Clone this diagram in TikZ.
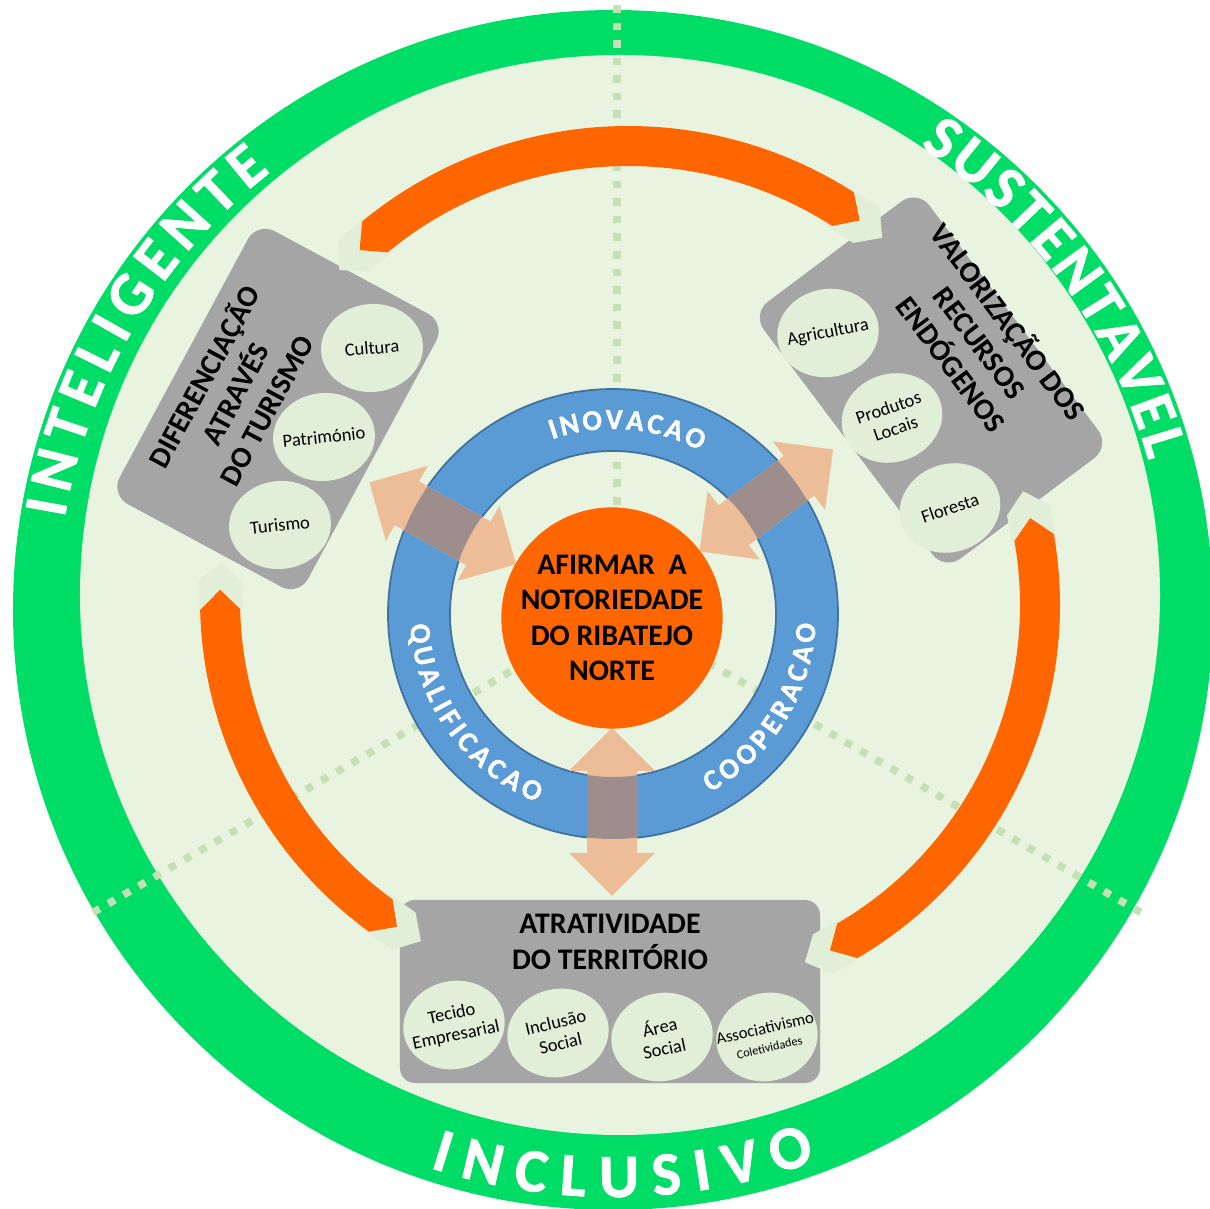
\documentclass[tikz,border=0pt]{standalone}
\usepackage{fontspec}
\setmainfont{Carlito}
\newfontfamily\ringface[UprightFont={* Bold}, FakeBold=1.2]{Carlito}
\usetikzlibrary{shapes.geometric,decorations.text}

\definecolor{greenring}{RGB}{0,221,102}
\definecolor{greendisk}{RGB}{232,243,224}
\definecolor{bubblefill}{RGB}{225,238,216}
\definecolor{dotfill}{RGB}{197,224,180}
\definecolor{blueband}{RGB}{91,155,213}
\definecolor{blueedge}{RGB}{65,113,156}
\definecolor{peachfill}{RGB}{236,189,150}
\definecolor{mauvefill}{RGB}{158,141,141}
\definecolor{hubfill}{RGB}{255,102,0}
\definecolor{greybox}{RGB}{165,165,165}

\newcommand{\ringbig}{\ringface\fontsize{35}{35}\selectfont}
\newcommand{\ringsmall}{\ringface\fontsize{16.5}{16.5}\selectfont}

% double arrow from the hub, #1 = direction, #2 = colour
\newcommand{\peacharrow}[2]{%
  \fill[#2, shift={(-3,-8)}, rotate=#1] (110,0) --++(43,43) --++(0,-18) --++(82,0) --++(0,18)
    --++(43,-43) --++(-43,-43) --++(0,18) --++(-82,0) --++(0,-18) -- cycle;}

% curved orange band, #1 = centre, #2 = radius, #3/#4 = end angles
\newcommand{\loopbend}[4]{%
  \begin{scope}[shift={#1}]
    \fill[bubblefill] ({#3+2}:{#2+22}) -- ({#3-4.1}:{#2+22}) -- ({#3-7}:#2) -- ({#3-4.1}:{#2-22}) -- ({#3+2}:{#2-22}) -- cycle;
    \fill[bubblefill] ({#4-2}:{#2+22}) -- ({#4+4.1}:{#2+22}) -- ({#4+7}:#2) -- ({#4+4.1}:{#2-22}) -- ({#4-2}:{#2-22}) -- cycle;
    \fill[hubfill] ({#3}:{#2+20}) arc[start angle=#3, end angle=#4, radius={#2+20}] -- ({#4+2.9}:#2)
      -- ({#4}:{#2-20}) arc[start angle=#4, end angle=#3, radius={#2-20}] -- ({#3-2.9}:#2) -- cycle;
  \end{scope}}

\tikzset{
  bubble/.style={ellipse, fill=bubblefill, minimum width=2.04cm, minimum height=1.76cm, inner sep=0pt,
    inner xsep=-0.3cm, align=center, text=black, font=\fontsize{10.5}{12.5}\selectfont},
  boxtitle/.style={align=center, text=black, font=\bfseries\fontsize{17}{20.2}\selectfont},
  hubdisk/.style={boxtitle, circle, fill=hubfill, minimum size=4.32cm, inner sep=0pt},
  dotline/.style={draw=dotfill, line width=4.3pt, dash pattern=on 4.3pt off 5.7pt},
  ringtext/.style={decorate, decoration={text along path, text align=fit to path, text color=white, text={#1}}},
}

\begin{document}
\begin{tikzpicture}[x=0.02cm, y=0.02cm]
  \useasboundingbox (-615,-599) rectangle (595,610);
  \clip (-615,-599) rectangle (595,610);
  \fill[white] (-615,-599) rectangle (595,610);

  % outer ring and disk
  \fill[greenring] (-2,0) circle (600);
  \fill[greendisk] (5,15) circle (540);
  \foreach \a in {90,210,330}
    \draw[dotline] (2,0) -- ++(\a:605);

  % blue ring with the three double arrows
  \path[fill=blueband, draw=blueedge, line width=1pt, even odd rule] (-2,-4) circle (225) (-2,-4) circle (163);
  \foreach \a in {150.8,37.3,270}
    \peacharrow{\a}{peachfill};
  \begin{scope}
    \clip (-2,-4) ++(0:225) arc[start angle=0, end angle=360, radius=225] -- ++(-62,0)
      arc[start angle=360, end angle=0, radius=163] -- cycle;
    \foreach \a in {150.8,37.3,270}
      \peacharrow{\a}{mauvefill};
  \end{scope}
  \node[hubdisk] (hub) at (-3,-8) {AFIRMAR\ \ A\\NOTORIEDADE\\DO RIBATEJO\\NORTE};

  % grey boxes
  \fill[greybox, rounded corners=0.4cm, rotate around={61.7:(-337,201)}] (-492,94) rectangle (-182,308);
  \fill[greybox, rounded corners=0.4cm, rotate around={-53.1:(316,230)}] (155.5,126.5) rectangle (476.5,333.5);
  \fill[greybox, rounded corners=0.3cm] (-215,-473) rectangle (205,-290);

  % orange bands
  \loopbend{(13,66)}{398}{57.3}{129.5}
  \loopbend{(-5,10)}{390}{181.4}{234}
  \loopbend{(36,5)}{389}{-59.7}{10}

  % bubbles
  \node[bubble, rotate=5] (cultura) at (-243,262) {Cultura};
  \node[bubble, rotate=6] (patrimonio) at (-291,173) {Património};
  \node[bubble, rotate=6] (turismo) at (-335,85) {Turismo};
  \node[bubble, rotate=11] (agricultura) at (213,277) {Agricultura};
  \node[bubble, rotate=19] (produtos) at (277,192) {Produtos\\Locais};
  \node[bubble, rotate=19] (floresta) at (335,102) {Floresta};
  \node[bubble, rotate=12] (tecido) at (-161,-415) {Tecido\\Empresarial};
  \node[bubble, rotate=13] (inclusao) at (-57,-423) {Inclusão\\Social};
  \node[bubble, rotate=12] (area) at (47,-427) {Área\\Social};
  \node[bubble, rotate=13, font=\fontsize{9.5}{10.5}\selectfont] (associativismo) at (152,-427)
    {Associativismo\\{\fontsize{7}{8}\selectfont Coletividades}};

  % box titles
  \node[boxtitle, rotate=61.7] (diferenciacao) at (-381,217) {DIFERENCIAÇÃO\\ATRAVÉS\\DO TURISMO};
  \node[boxtitle, rotate=-53.1] (valorizacao) at (366,268) {VALORIZAÇÃO DOS\\RECURSOS\\ENDÓGENOS};
  \node[boxtitle] (atratividade) at (-5,-332) {ATRATIVIDADE\\DO TERRITÓRIO};

  % ring words
  \path[ringtext={|\ringbig|INTELIGENTE}] (-2,0) ++(170.5:556) arc[start angle=170.5, end angle=128, radius=556];
  \path[ringtext={|\ringbig|SUSTENTAVEL}] (-2,0) ++(56.5:556) arc[start angle=56.5, end angle=15.6, radius=556];
  \path[ringtext={|\ringbig|INCLUSIVO}] (-2,0) ++(251.8:587) arc[start angle=251.8, end angle=290.2, radius=587];
  \path[ringtext={|\ringsmall|INOVACAO}] (-2,-4) ++(109.2:185) arc[start angle=109.2, end angle=61.9, radius=185];
  \path[ringtext={|\ringsmall|QUALIFICACAO}] (-2,-4) ++(183:203) arc[start angle=183, end angle=248, radius=203];
  \path[ringtext={|\ringsmall|COOPERACAO}] (-2,-4) ++(298.6:203) arc[start angle=298.6, end angle=357.2, radius=203];
\end{tikzpicture}
\end{document}
